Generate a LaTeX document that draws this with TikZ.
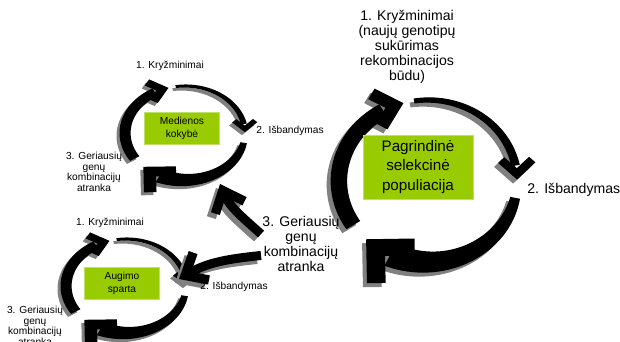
\documentclass[tikz,border=0pt]{standalone}
\usepackage{fontspec}
\setmainfont{Liberation Sans}
\usetikzlibrary{arrows.meta}

\definecolor{boxgreen}{HTML}{99CC00}
\definecolor{shadowgray}{HTML}{808080}

% one arc of a ring: start, band end, tip angle, start width, end width, arm length, arm width
\newcommand{\cycarc}[7]{%
  \fill plot[domain=#1:#2, samples=40] (\x:{81+(#4+(#5-#4)*(\x-(#1))/((#2)-(#1)))/2})
    -- plot[domain=#2:#1, samples=40] (\x:{81-(#4+(#5-#4)*(\x-(#1))/((#2)-(#1)))/2}) -- cycle;
  \fill[shift={(#3:81)}, rotate=-#3-90] (0,0) -- ({-0.707*#6},{0.707*#6})
    -- ({-0.707*(#6+#7)},{0.707*(#6-#7)}) -- ({-1.414*#7},0)
    -- ({-0.707*(#6+#7)},{-0.707*(#6-#7)}) -- ({-0.707*#6},{-0.707*#6}) -- cycle;
}
% the three arcs of one ring
\newcommand{\ringarcs}{%
  \cycarc{-99}{-11}{-1}{5}{8}{24}{8}%
  \cycarc{12}{115}{134}{9}{25}{44}{17}%
  \cycarc{147}{240}{254}{15}{15}{30}{12}%
}
% ring with its shadow: centre x, centre y, x scale, y scale, shadow offset
\newcommand{\cycring}[5]{%
  \begin{scope}[shift={(#1-#5,#2+#5)}, xscale=#3, yscale=#4, shadowgray]\ringarcs\end{scope}
  \begin{scope}[shift={(#1,#2)}, xscale=#3, yscale=#4, black]\ringarcs\end{scope}
}

\begin{document}
\begin{tikzpicture}[
    x=0.3mm, y=-0.3mm,
    bigtxt/.style={font=\fontsize{12}{12.8}\selectfont, align=center, inner sep=1pt},
    smalltxt/.style={font=\fontsize{8.7}{9}\selectfont, align=center, inner sep=1pt},
    bigbox/.style={fill=boxgreen, draw=boxgreen!60!white, thin, minimum width=33mm,
      minimum height=19.2mm, align=center, font=\fontsize{13}{17}\selectfont},
    smallbox/.style={fill=boxgreen, draw=boxgreen!60!white, thin, minimum width=22.5mm,
      minimum height=9.5mm, align=center, font=\fontsize{8.7}{11}\selectfont},
    conn/.style={line width=2.7mm,
      -{Straight Barb[sharp, length=5.5mm, width=9.5mm, line width=2.8mm]}},
    castshadow/.style={shadowgray, transform canvas={shift={(-4,4)}}},
  ]
  \useasboundingbox (0,0) rectangle (620,342);
  \clip (0,0) rectangle (620,342);

  % ---- rings --------------------------------------------------------
  \cycring{428}{181}{1.1}{1}{4}
  \cycring{185}{133}{0.74}{0.58}{3}
  \cycring{126}{286}{0.74}{0.58}{3}

  % ---- main population ----------------------------------------------
  \node[bigbox] (mainbox) at (418,167) {Pagrindinė\\selekcinė\\populiacija};
  \node[bigtxt] (maincross) at (407,47)
    {1. Kryžminimai\\(naujų genotipų\\sukūrimas\\rekombinacijos\\būdu)};
  \node[bigtxt, anchor=west] (maintest) at (526,190) {2. Išbandymas};
  \node[bigtxt] (mainsel) at (301,244) {3. Geriausių\\genų\\kombinacijų\\atranka};

  % ---- wood quality -------------------------------------------------
  \node[smallbox] (woodbox) at (182,128) {Medienos\\kokybė};
  \node[smalltxt] (woodcross) at (170,66) {1. Kryžminimai};
  \node[smalltxt, anchor=west] (woodtest) at (255,131) {2. Išbandymas};
  \node[smalltxt] (woodsel) at (94,172) {3. Geriausių\\genų\\kombinacijų\\atranka};

  % ---- connectors ---------------------------------------------------
  \coordinate (woodin) at (220,184);
  \coordinate (growin) at (179,279);
  \draw[conn, castshadow] (mainsel.166) to[out=138, in=293] (woodin);
  \draw[conn, castshadow] (mainsel.196) to[out=186, in=30] (growin);
  \draw[conn] (mainsel.166) to[out=138, in=293] (woodin);
  \draw[conn] (mainsel.196) to[out=186, in=30] (growin);

  % ---- growth rate --------------------------------------------------
  \node[smallbox] (growbox) at (122,283) {Augimo\\sparta};
  \node[smalltxt] (growcross) at (110,223) {1. Kryžminimai};
  \node[smalltxt, anchor=west] (growtest) at (199,287) {2. Išbandymas};
  \node[smalltxt] (growsel) at (35,326) {3. Geriausių\\genų\\kombinacijų\\atranka};
\end{tikzpicture}
\end{document}
